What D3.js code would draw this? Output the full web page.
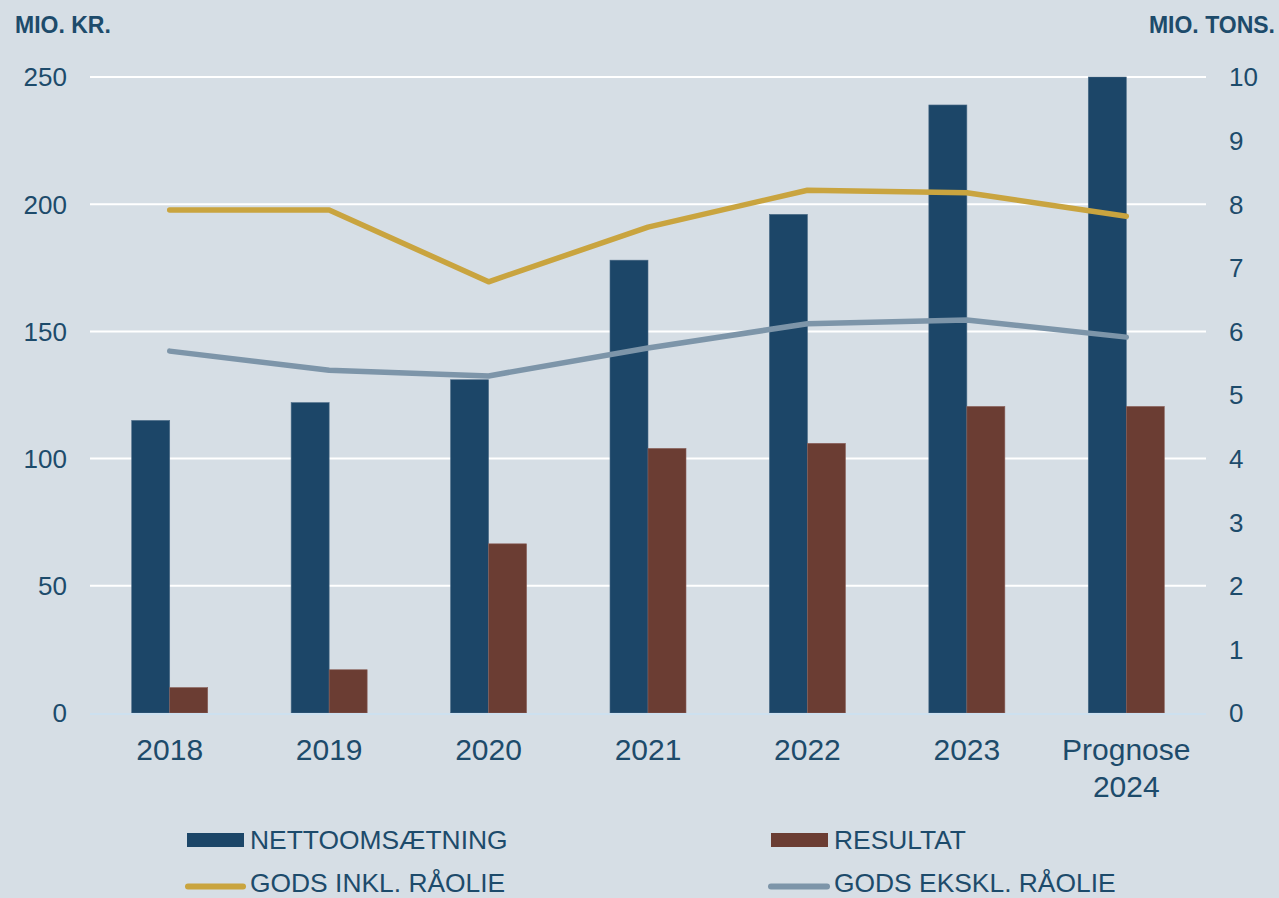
<!DOCTYPE html>
<html>
<head>
<meta charset="utf-8">
<script src="https://cdn.jsdelivr.net/npm/d3@7"></script>
<style>
  body { margin: 0; background: #d6dee5; }
  svg { display: block; font-family: "Liberation Sans", Arial, sans-serif; }
</style>
</head>
<body>
<div id="chart"></div>
<script>
// Data
const years = ["2018", "2019", "2020", "2021", "2022", "2023", "Prognose 2024"];
const nettoomsaetning = [115, 122, 131, 178, 196, 239, 250];
const resultat = [10, 17, 66.5, 104, 106, 120.5, 120.5];
const godsInkl = [7.91, 7.91, 6.78, 7.64, 8.22, 8.18, 7.81];
const godsEkskl = [5.69, 5.39, 5.30, 5.74, 6.12, 6.18, 5.91];
const leftTicks = [0, 50, 100, 150, 200, 250];
const rightTicks = [0, 1, 2, 3, 4, 5, 6, 7, 8, 9, 10];

const W = 1279, H = 898;
const textColor = "#1d4b6b";
const colors = {
  netto: "#1c4668",
  resultat: "#6b3d33",
  inkl: "#c9a43f",
  ekskl: "#7d95a9"
};

const svg = d3.select("#chart").append("svg")
  .attr("width", W)
  .attr("height", H);

svg.append("rect").attr("width", W).attr("height", H).attr("fill", "#d6dee5");

const plot = {left: 90, right: 1206, top: 77, bottom: 713};

const x = d3.scaleBand()
  .domain(years)
  .range([plot.left, plot.right]);

const yL = d3.scaleLinear().domain([0, 250]).range([plot.bottom, plot.top]);
const yR = d3.scaleLinear().domain([0, 10]).range([plot.bottom, plot.top]);

const barW = 38;

// Gridlines
svg.append("g")
  .selectAll("line")
  .data(leftTicks.filter(d => d > 0))
  .join("line")
    .attr("x1", plot.left)
    .attr("x2", plot.right)
    .attr("y1", d => yL(d))
    .attr("y2", d => yL(d))
    .attr("stroke", "#ffffff")
    .attr("stroke-width", 2);

// Left axis labels
svg.append("g")
  .selectAll("text")
  .data(leftTicks)
  .join("text")
    .attr("x", 67)
    .attr("y", d => yL(d))
    .attr("dy", "0.36em")
    .attr("text-anchor", "end")
    .attr("fill", textColor)
    .style("font-size", "26px")
    .text(d => d);

// Right axis labels
svg.append("g")
  .selectAll("text")
  .data(rightTicks)
  .join("text")
    .attr("x", 1229)
    .attr("y", d => yR(d))
    .attr("dy", "0.36em")
    .attr("text-anchor", "start")
    .attr("fill", textColor)
    .style("font-size", "26px")
    .text(d => d);

// Axis titles
svg.append("text")
  .attr("x", 15).attr("y", 33)
  .attr("fill", textColor)
  .style("font-size", "23px").style("font-weight", "bold")
  .text("MIO. KR.");

svg.append("text")
  .attr("x", 1275).attr("y", 33)
  .attr("text-anchor", "end")
  .attr("fill", textColor)
  .style("font-size", "23px").style("font-weight", "bold")
  .text("MIO. TONS.");

const center = d => x(d) + x.bandwidth() / 2;

// Bars
svg.append("g")
  .selectAll("rect")
  .data(years.map((d, i) => ({year: d, v: nettoomsaetning[i]})))
  .join("rect")
    .attr("x", d => center(d.year) - barW)
    .attr("y", d => yL(d.v))
    .attr("width", barW)
    .attr("height", d => yL(0) - yL(d.v))
    .attr("fill", colors.netto)
    .attr("stroke", "#4a6a86")
    .attr("stroke-width", 0.6);

svg.append("g")
  .selectAll("rect")
  .data(years.map((d, i) => ({year: d, v: resultat[i]})))
  .join("rect")
    .attr("x", d => center(d.year))
    .attr("y", d => yL(d.v))
    .attr("width", barW)
    .attr("height", d => yL(0) - yL(d.v))
    .attr("fill", colors.resultat)
    .attr("stroke", "#8a605a")
    .attr("stroke-width", 0.6);

// Zero line
svg.append("line")
  .attr("x1", plot.left).attr("x2", plot.right)
  .attr("y1", yL(0) + 1).attr("y2", yL(0) + 1)
  .attr("stroke", "#cde0ef")
  .attr("stroke-width", 2);

// Lines
const line = d3.line()
  .x((d, i) => center(years[i]))
  .y(d => yR(d));

svg.append("path")
  .datum(godsInkl)
  .attr("d", line)
  .attr("fill", "none")
  .attr("stroke", colors.inkl)
  .attr("stroke-width", 5.5)
  .attr("stroke-linecap", "round")
  .attr("stroke-linejoin", "round");

svg.append("path")
  .datum(godsEkskl)
  .attr("d", line)
  .attr("fill", "none")
  .attr("stroke", colors.ekskl)
  .attr("stroke-width", 5.5)
  .attr("stroke-linecap", "round")
  .attr("stroke-linejoin", "round");

// X labels
const xl = svg.append("g")
  .selectAll("text")
  .data(years)
  .join("text")
    .attr("x", d => center(d))
    .attr("y", 760)
    .attr("text-anchor", "middle")
    .attr("fill", textColor)
    .style("font-size", "30px");

xl.each(function(d) {
  const parts = d.split(" ");
  const t = d3.select(this);
  parts.forEach((p, i) => {
    t.append("tspan")
      .attr("x", center(d))
      .attr("dy", i === 0 ? 0 : 37)
      .text(p);
  });
});

// Legend
const legend = svg.append("g");

legend.append("rect")
  .attr("x", 187).attr("y", 833).attr("width", 57).attr("height", 14)
  .attr("fill", colors.netto);
legend.append("text")
  .attr("x", 250).attr("y", 849)
  .attr("fill", textColor).style("font-size", "26.4px")
  .text("NETTOOMSÆTNING");

legend.append("rect")
  .attr("x", 771).attr("y", 833).attr("width", 57).attr("height", 14)
  .attr("fill", colors.resultat);
legend.append("text")
  .attr("x", 834).attr("y", 849)
  .attr("fill", textColor).style("font-size", "26.4px")
  .text("RESULTAT");

legend.append("line")
  .attr("x1", 188).attr("x2", 243).attr("y1", 886.5).attr("y2", 886.5)
  .attr("stroke", colors.inkl).attr("stroke-width", 6).attr("stroke-linecap", "round");
legend.append("text")
  .attr("x", 250).attr("y", 892)
  .attr("fill", textColor).style("font-size", "26.4px")
  .text("GODS INKL. RÅOLIE");

legend.append("line")
  .attr("x1", 771).attr("x2", 827).attr("y1", 886.5).attr("y2", 886.5)
  .attr("stroke", colors.ekskl).attr("stroke-width", 6).attr("stroke-linecap", "round");
legend.append("text")
  .attr("x", 834).attr("y", 892)
  .attr("fill", textColor).style("font-size", "26.4px")
  .text("GODS EKSKL. RÅOLIE");
</script>
</body>
</html>
